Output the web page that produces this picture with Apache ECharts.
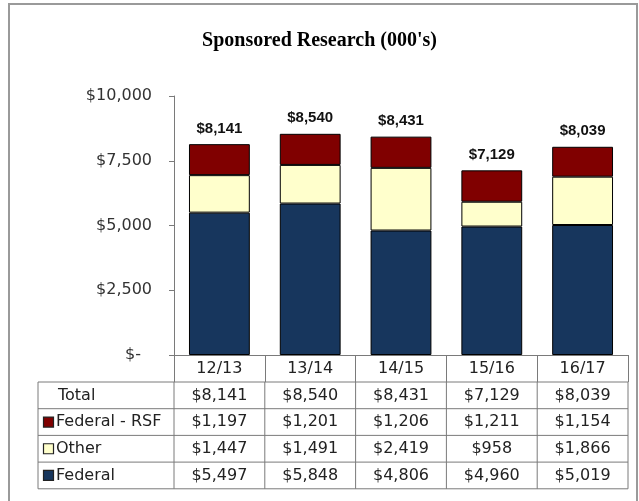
<!DOCTYPE html>
<html>
<head>
<meta charset="utf-8">
<script src="https://cdn.jsdelivr.net/npm/echarts@6/dist/echarts.min.js"></script>
<style>
  html, body { margin: 0; padding: 0; background: #fff; }
  #chart { width: 639px; height: 501px; }
</style>
</head>
<body>
<div id="chart"></div>
<script>
// data
var categories = ['12/13', '13/14', '14/15', '15/16', '16/17'];
var federal = [5497, 5848, 4806, 4960, 5019];
var other = [1447, 1491, 2419, 958, 1866];
var federalRsf = [1197, 1201, 1206, 1211, 1154];
var totals = [8141, 8540, 8431, 7129, 8039];
var yTicks = [0, 2500, 5000, 7500, 10000];

var colors = {
    federal: '#17365d',
    other: '#ffffcc',
    rsf: '#800000'
};

var money = function(v) {
    return '$' + v.toLocaleString('en-US');
};

var tableFont = 'DejaVu Sans';
var lineColor = '#7a7a7a';

var chart = echarts.init(document.getElementById('chart'));

var option = {
    animation: false,
    title: {
        text: "Sponsored Research (000's)",
        left: 'center',
        top: 26,
        textStyle: {
            fontFamily: 'Liberation Serif',
            fontWeight: 'bold',
            fontSize: 20,
            color: '#000'
        }
    },
    grid: {
        left: 174,
        right: 11,
        top: 96,
        bottom: 146
    },
    xAxis: {
        type: 'category',
        data: categories,
        axisLine: { lineStyle: { color: lineColor, width: 1 } },
        axisTick: { show: true, length: 27, lineStyle: { color: lineColor } },
        axisLabel: {
            margin: 6,
            fontFamily: tableFont,
            fontSize: 16,
            color: '#222'
        }
    },
    yAxis: {
        type: 'value',
        min: yTicks[0],
        max: yTicks[yTicks.length - 1],
        interval: 2500,
        splitLine: { show: false },
        axisLine: { show: true, lineStyle: { color: lineColor } },
        axisTick: { show: true, length: 5, lineStyle: { color: lineColor } },
        axisLabel: {
            margin: 22,
            fontFamily: tableFont,
            fontSize: 16,
            color: '#333',
            formatter: function(v) {
                if (v === 0) return '{z|$-}';
                return money(v);
            },
            rich: {
                z: { fontFamily: tableFont, fontSize: 16, color: '#333', padding: [0, 11, 0, 0] }
            }
        }
    },
    series: [
        {
            name: 'Federal',
            type: 'bar',
            stack: 'all',
            barWidth: '67%',
            data: federal,
            itemStyle: { color: colors.federal, borderColor: '#000', borderWidth: 1 }
        },
        {
            name: 'Other',
            type: 'bar',
            stack: 'all',
            data: other,
            itemStyle: { color: colors.other, borderColor: '#000', borderWidth: 1 }
        },
        {
            name: 'Federal - RSF',
            type: 'bar',
            stack: 'all',
            data: federalRsf,
            itemStyle: { color: colors.rsf, borderColor: '#000', borderWidth: 1 },
            label: {
                show: true,
                position: 'top',
                distance: 8,
                fontFamily: 'Liberation Sans',
                fontWeight: 'bold',
                fontSize: 15,
                color: '#111',
                formatter: function(p) {
                    return money(totals[p.dataIndex]);
                }
            }
        }
    ]
};

chart.setOption(option);

// data table under the axis, placed from the axis scale
var buildTable = function() {
    var rows = [
        { name: 'Total', values: totals, key: null },
        { name: 'Federal - RSF', values: federalRsf, key: colors.rsf },
        { name: 'Other', values: other, key: colors.other },
        { name: 'Federal', values: federal, key: colors.federal }
    ];
    var centers = categories.map(function(c) {
        return chart.convertToPixel({ xAxisIndex: 0 }, c);
    });
    var band = centers[1] - centers[0];
    var x0 = centers[0] - band / 2;
    var x1 = centers[centers.length - 1] + band / 2;
    var zeroY = chart.convertToPixel({ yAxisIndex: 0 }, 0);
    var top = zeroY + 27;
    var rowH = 26.7;
    var left = 38;
    var bottom = top + rowH * rows.length;
    var els = [];
    var ln = function(xa, ya, xb, yb) {
        els.push({
            type: 'line',
            shape: { x1: xa, y1: ya, x2: xb, y2: yb },
            style: { stroke: lineColor, lineWidth: 1 },
            silent: true
        });
    };
    for (var r = 0; r <= rows.length; r++) {
        ln(left, top + r * rowH, x1, top + r * rowH);
    }
    ln(left, top, left, bottom);
    for (var c = 0; c <= categories.length; c++) {
        ln(x0 + c * band, top, x0 + c * band, bottom);
    }
    rows.forEach(function(row, i) {
        var cy = top + i * rowH + rowH / 2;
        if (row.key) {
            els.push({
                type: 'rect',
                shape: { x: 43.5, y: cy - 5, width: 10, height: 10 },
                style: { fill: row.key, stroke: '#222', lineWidth: 1.2 },
                silent: true
            });
        }
        els.push({
            type: 'text',
            x: row.key ? 56 : 58,
            y: cy,
            style: {
                text: row.name,
                fontFamily: tableFont,
                fontSize: 16,
                fill: '#222',
                verticalAlign: 'middle'
            },
            silent: true
        });
        row.values.forEach(function(v, j) {
            els.push({
                type: 'text',
                x: centers[j],
                y: cy,
                style: {
                    text: money(v),
                    fontFamily: tableFont,
                    fontSize: 16,
                    fill: '#222',
                    align: 'center',
                    verticalAlign: 'middle'
                },
                silent: true
            });
        });
    });
    // outer chart frame
    els.push({
        type: 'rect',
        shape: { x: 9, y: 4, width: 628, height: 520 },
        style: { fill: 'none', stroke: '#9a9a9a', lineWidth: 2 },
        silent: true
    });
    chart.setOption({ graphic: els });
};

buildTable();
</script>
</body>
</html>
